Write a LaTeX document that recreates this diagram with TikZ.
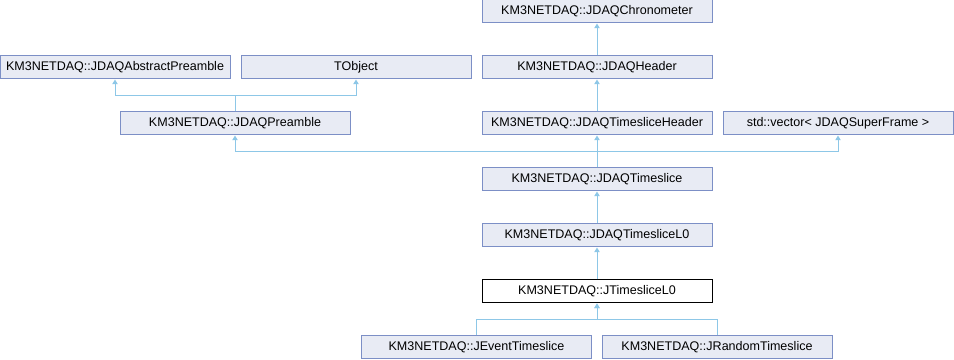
\documentclass[tikz,border=0pt]{standalone}
\usepackage{fontspec}
\setmainfont{Liberation Sans}
\usetikzlibrary{arrows.meta}

\definecolor{boxfill}{HTML}{E8EBF4}
\definecolor{boxline}{HTML}{7C8FC6}
\definecolor{edgeblue}{HTML}{8DC7E7}

\tikzstyle{classbox} = [rectangle, minimum width=172.5pt, minimum height=17.25pt, inner sep=0pt, text centered, draw=boxline, fill=boxfill, line width=0.75pt, font=\fontsize{9.4}{11}\selectfont]
\tikzstyle{rootbox} = [classbox, draw=black, fill=white]
\tikzstyle{edge} = [draw=edgeblue, line width=0.75pt, -{Triangle[length=3.5pt,width=4pt]}]

\begin{document}
\begin{tikzpicture}[x=0.75pt, y=0.75pt, node distance=42pt]

\useasboundingbox (0,0) rectangle (954,360);

% Nodes
\node (chrono) [classbox] at (597,348.5) {KM3NETDAQ::JDAQChronometer};
\node (header) [classbox, below of=chrono] {KM3NETDAQ::JDAQHeader};
\node (abstract) [classbox, left of=header, xshift=-319.5pt] {KM3NETDAQ::JDAQAbstractPreamble};
\node (tobject) [classbox, right of=abstract, xshift=138.75pt] {TObject};
\node (tsheader) [classbox, below of=header] {KM3NETDAQ::JDAQTimesliceHeader};
\node (preamble) [classbox, left of=tsheader, xshift=-229.5pt] {KM3NETDAQ::JDAQPreamble};
\node (vector) [classbox, right of=tsheader, xshift=138.75pt] {std::vector< JDAQSuperFrame >};
\node (timeslice) [classbox, below of=tsheader] {KM3NETDAQ::JDAQTimeslice};
\node (timesliceL0) [classbox, below of=timeslice] {KM3NETDAQ::JDAQTimesliceL0};
\node (jtimesliceL0) [rootbox, below of=timesliceL0] {KM3NETDAQ::JTimesliceL0};
\node (event) [classbox, below of=jtimesliceL0, xshift=-90.4pt] {KM3NETDAQ::JEventTimeslice};
\node (random) [classbox, below of=jtimesliceL0, xshift=90pt] {KM3NETDAQ::JRandomTimeslice};

% Arrows
\draw [edge] (header) -- (chrono);
\draw [edge] (tsheader) -- (header);
\draw [edge] (preamble.north) -- ++(0,16) -| (abstract.south);
\draw [edge] (preamble.north) -- ++(0,16) -| (tobject.south);
\draw [edge] (timeslice.north) -- ++(0,16) -| (preamble.south);
\draw [edge] (timeslice) -- (tsheader);
\draw [edge] (timeslice.north) -- ++(0,16) -| (vector.south);
\draw [edge] (timesliceL0) -- (timeslice);
\draw [edge] (jtimesliceL0) -- (timesliceL0);
\draw [edge] (event.north) -- ++(0,16) -| (jtimesliceL0.south);
\draw [edge] (random.north) -- ++(0,16) -| (jtimesliceL0.south);

\end{tikzpicture}
\end{document}
